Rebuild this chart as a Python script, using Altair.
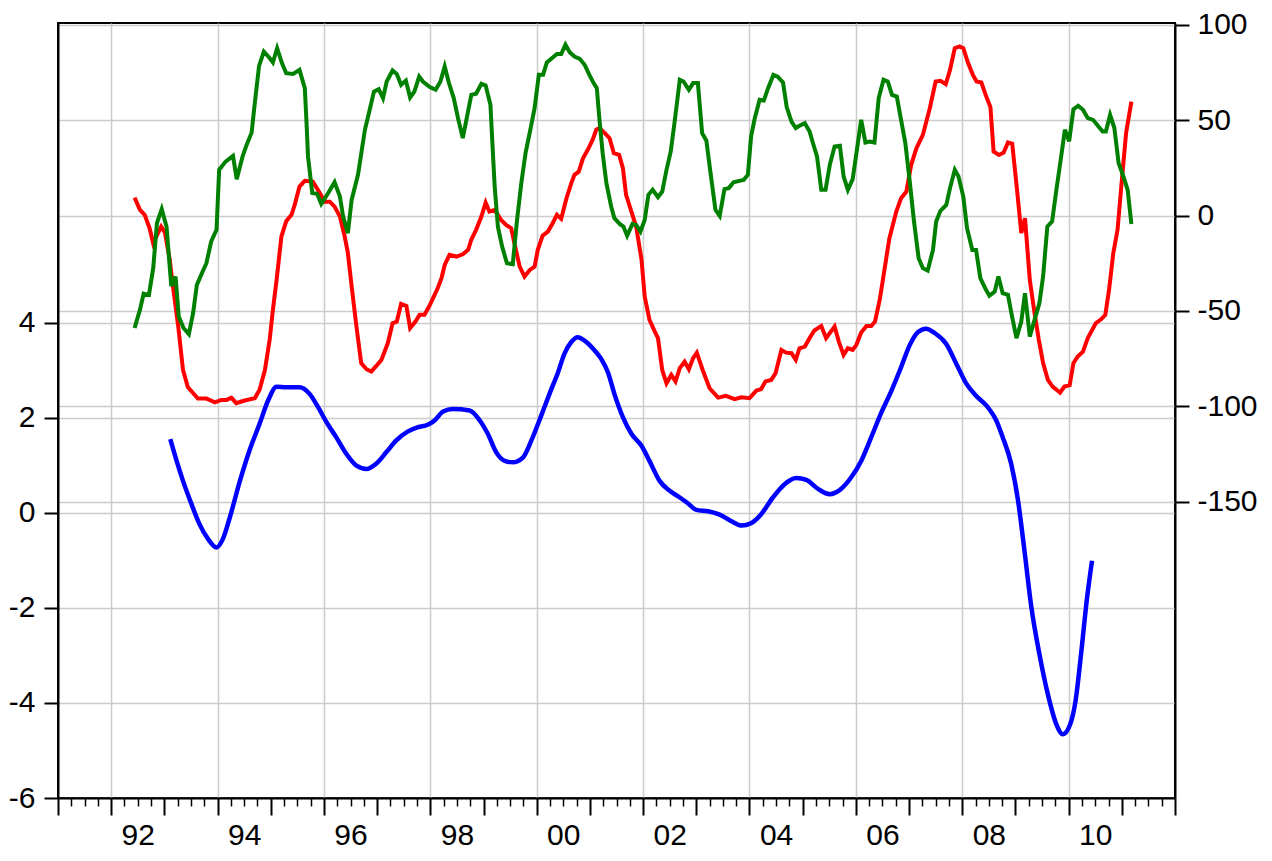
import altair as alt
import pandas as pd

# ---------------- data ----------------
red_t = [1992.44, 1992.54, 1992.63, 1992.72, 1992.79, 1992.88, 1992.94, 1993.01, 1993.10, 1993.16,
         1993.26, 1993.35, 1993.44, 1993.63, 1993.79, 1993.95, 1994.07, 1994.17, 1994.26, 1994.35,
         1994.51, 1994.70, 1994.79, 1994.89, 1994.98, 1995.04, 1995.11, 1995.20, 1995.29, 1995.39,
         1995.45, 1995.54, 1995.64, 1995.79, 1995.92, 1996.01, 1996.11, 1996.20, 1996.30, 1996.39,
         1996.45, 1996.52, 1996.61, 1996.70, 1996.80, 1996.89, 1996.98, 1997.08, 1997.20, 1997.29,
         1997.37, 1997.45, 1997.55, 1997.62, 1997.72, 1997.80, 1997.89, 1997.99, 1998.08, 1998.14,
         1998.21, 1998.27, 1998.36, 1998.49, 1998.61, 1998.71, 1998.77, 1998.86, 1998.96, 1999.04,
         1999.11, 1999.21, 1999.33, 1999.43, 1999.52, 1999.58, 1999.68, 1999.77, 1999.87, 1999.96,
         2000.02, 2000.11, 2000.21, 2000.30, 2000.38, 2000.46, 2000.56, 2000.65, 2000.71, 2000.79,
         2000.87, 2000.96, 2001.05, 2001.12, 2001.18, 2001.28, 2001.37, 2001.45, 2001.55, 2001.62,
         2001.68, 2001.78, 2001.87, 2001.97, 2002.03, 2002.12, 2002.22, 2002.28, 2002.36, 2002.44,
         2002.53, 2002.61, 2002.69, 2002.78, 2002.86, 2002.94, 2003.01, 2003.12, 2003.25, 2003.41,
         2003.56, 2003.72, 2003.85, 2004.00, 2004.13, 2004.22, 2004.30, 2004.41, 2004.49, 2004.60,
         2004.69, 2004.79, 2004.87, 2004.94, 2005.04, 2005.13, 2005.22, 2005.35, 2005.44, 2005.60,
         2005.68, 2005.77, 2005.85, 2005.94, 2006.01, 2006.10, 2006.20, 2006.29, 2006.36, 2006.45,
         2006.54, 2006.63, 2006.76, 2006.85, 2006.95, 2007.04, 2007.14, 2007.26, 2007.39, 2007.50,
         2007.59, 2007.69, 2007.77, 2007.86, 2007.95, 2008.02, 2008.11, 2008.20, 2008.27, 2008.36,
         2008.44, 2008.53, 2008.59, 2008.69, 2008.78, 2008.86, 2008.94, 2009.03, 2009.11, 2009.18,
         2009.27, 2009.36, 2009.44, 2009.52, 2009.61, 2009.70, 2009.84, 2009.92, 2010.02, 2010.09,
         2010.17, 2010.27, 2010.36, 2010.51, 2010.61, 2010.69, 2010.76, 2010.84, 2010.92, 2010.99,
         2011.08, 2011.18]
red_v = [9.4, 3, 0.4, -6.5, -14.5, -9.2, -5.8, -9, -23, -37,
         -58, -81, -90, -96, -96, -98, -96.7, -96.7, -95.5, -98.4,
         -97, -95.8, -91.4, -81, -65, -49.5, -33.7, -11, -3, 0.4,
         5.6, 15.2, 18.2, 17.8, 12, 7.3, 7.3, 4.7, -0.5, -11,
         -19.7, -37, -58, -77.4, -80.6, -81.8, -79, -75.7, -67, -56.5,
         -55.6, -46.3, -47.4, -59, -55.6, -52, -52, -47, -41.6, -38,
         -32.8, -25.9, -20.6, -21.5, -20.3, -18, -12.7, -7.5, -0.5, 6.8,
         2.1, 3, -2.3, -5, -6.6, -14.5, -26.8, -32, -28.5, -26.8,
         -18, -10.6, -8.4, -4, 0.4, -1.7, 9.1, 17, 21.4, 23,
         30, 34.5, 39.7, 45, 45.9, 43.2, 40.6, 32.7, 31.8, 24.9,
         10.9, 2.1, -5.8, -23, -42.5, -54.7, -60.9, -64.3, -81, -88,
         -83.6, -87, -80, -76.6, -80.6, -74.8, -71.9, -81, -90.6, -95.5,
         -94.6, -96.3, -95.3, -95.8, -91.8, -91, -87, -86.2, -82.7, -70.5,
         -71.9, -72.2, -75.7, -69.6, -68.7, -64.3, -60.3, -57.9, -64.3, -58.2,
         -66.1, -73.1, -69.6, -70.5, -67.8, -61.4, -57.9, -57.9, -55.6, -44,
         -28, -12, 2.1, 9.1, 12.6, 26.6, 35.4, 42.3, 56.3, 70.3,
         70.7, 68.9, 76.4, 87.8, 88.7, 87.8, 80, 73.8, 70.3, 69.8,
         63.3, 56.9, 33.6, 31.8, 33, 38.3, 37.6, 13.5, -9.2, -1.4,
         -33.7, -51.2, -65.2, -77.4, -86.2, -89.7, -92.9, -89.7, -89, -77.4,
         -74, -71.4, -64.3, -56.5, -54.4, -52.1, -39, -19.7, -7.5, 15.2,
         43.2, 59.8]

green_t = [1992.44, 1992.54, 1992.61, 1992.71, 1992.79, 1992.86, 1992.95, 1993.04, 1993.13, 1993.21,
           1993.27, 1993.36, 1993.46, 1993.54, 1993.61, 1993.70, 1993.79, 1993.88, 1993.98, 1994.03,
           1994.15, 1994.29, 1994.36, 1994.47, 1994.54, 1994.64, 1994.70, 1994.78, 1994.87, 1994.97,
           1995.04, 1995.12, 1995.21, 1995.29, 1995.42, 1995.54, 1995.64, 1995.67, 1995.70, 1995.78,
           1995.87, 1995.95, 1996.08, 1996.20, 1996.30, 1996.36, 1996.45, 1996.52, 1996.64, 1996.77,
           1996.86, 1996.94, 1997.03, 1997.11, 1997.18, 1997.29, 1997.37, 1997.45, 1997.54, 1997.62,
           1997.70, 1997.79, 1997.86, 1997.99, 1998.10, 1998.19, 1998.27, 1998.35, 1998.44, 1998.52,
           1998.61, 1998.69, 1998.77, 1998.86, 1998.96, 1999.04, 1999.13, 1999.17, 1999.21, 1999.27,
           1999.35, 1999.44, 1999.55, 1999.63, 1999.71, 1999.79, 1999.88, 1999.96, 2000.04, 2000.12,
           2000.19, 2000.29, 2000.38, 2000.46, 2000.54, 2000.62, 2000.71, 2000.81, 2000.90, 2000.99,
           2001.07, 2001.13, 2001.18, 2001.24, 2001.31, 2001.40, 2001.46, 2001.56, 2001.63, 2001.70,
           2001.80, 2001.87, 2001.95, 2002.03, 2002.10, 2002.18, 2002.28, 2002.36, 2002.44, 2002.52,
           2002.59, 2002.69, 2002.76, 2002.86, 2002.94, 2003.03, 2003.11, 2003.19, 2003.26, 2003.36,
           2003.44, 2003.53, 2003.61, 2003.70, 2003.81, 2003.89, 2003.97, 2004.03, 2004.10, 2004.19,
           2004.27, 2004.35, 2004.45, 2004.53, 2004.63, 2004.70, 2004.79, 2004.87, 2004.94, 2005.04,
           2005.13, 2005.19, 2005.27, 2005.35, 2005.43, 2005.51, 2005.60, 2005.70, 2005.77, 2005.85,
           2005.94, 2006.02, 2006.10, 2006.18, 2006.26, 2006.35, 2006.43, 2006.52, 2006.60, 2006.68,
           2006.77, 2006.85, 2006.93, 2007.01, 2007.09, 2007.18, 2007.26, 2007.35, 2007.45, 2007.51,
           2007.59, 2007.70, 2007.77, 2007.86, 2007.93, 2008.02, 2008.09, 2008.19, 2008.26, 2008.34,
           2008.44, 2008.51, 2008.61, 2008.68, 2008.76, 2008.86, 2008.93, 2009.02, 2009.11, 2009.18,
           2009.27, 2009.36, 2009.45, 2009.52, 2009.60, 2009.69, 2009.77, 2009.86, 2009.93, 2010.01,
           2010.09, 2010.18, 2010.27, 2010.36, 2010.46, 2010.55, 2010.64, 2010.70, 2010.78, 2010.86,
           2010.94, 2011.03, 2011.11, 2011.18]
green_v = [-59, -49.5, -41, -41.6, -27.6, -4, 3.4, -5.8, -37, -32,
           -53, -59, -62.2, -51.2, -36.4, -30.6, -25, -13.6, -7.5, 24,
           28.3, 31.3, 19.1, 31, 36.6, 43.5, 59, 78.5, 86, 82.9,
           80.3, 87.8, 80, 74.7, 74.3, 76.4, 66.8, 50.2, 31, 11.8,
           11.4, 6.1, 11.8, 17.5, 10, -0.5, -9.2, 8.2, 21.4, 45,
           55.5, 65, 66.3, 61.6, 70.3, 76.1, 74.2, 68.6, 70.8, 61.9,
           65, 72.9, 70.3, 67.4, 66, 70.3, 78.2, 69.5, 61.6, 51.1,
           40.6, 51.9, 63.3, 63.9, 69.1, 68.2, 58.1, 36.2, 15.2, -5.8,
           -16.3, -25, -25.5, -2.3, 17, 32.7, 45, 56.3, 73.8, 73.8,
           80.3, 82.6, 84.7, 84.7, 89.6, 85.7, 83.4, 82.2, 79.1, 73.8,
           69.5, 66.8, 50.2, 32.7, 17, 4.7, -1.4, -4.4, -5.8, -10.6,
           -4.4, -4.9, -8.4, -2.3, 10.9, 13.5, 9.7, 12.6, 24, 33.6,
           48.5, 71.2, 70.3, 66, 69.5, 69.5, 43.2, 39.3, 24, 3,
           -0.2, 13.9, 14.4, 17.5, 18.2, 18.7, 21.4, 41.4, 51.1, 60.7,
           60.3, 66.8, 73.8, 72.9, 69.8, 56.9, 49.3, 45.9, 47.1, 48.5,
           44.1, 38.3, 31, 13.5, 13.5, 26.6, 36.2, 36.6, 20.5, 13.5,
           19.1, 34.5, 50.2, 38.3, 38.8, 38.3, 61.6, 71.2, 70.3, 63.3,
           62.4, 50.2, 38, 18.7, -2.3, -22.4, -27.6, -28.9, -18, -3.1,
           2.5, 5.6, 14.4, 24, 20.5, 10, -6.6, -18, -18, -32.8,
           -38.6, -42.1, -39.9, -32, -40.7, -41.6, -52.1, -64.3, -55.6, -40.7,
           -63.5, -54.7, -46, -32, -5.8, -3.1, 13.5, 31, 45, 39,
           55.7, 57.6, 55.5, 51.1, 50.2, 47.1, 44.1, 44.1, 52.8, 45.9,
           27.5, 20.5, 13.5, -4.4]

blue_t = [1993.11, 1993.23, 1993.35, 1993.51, 1993.66, 1993.82, 1993.98, 1994.10, 1994.23, 1994.42,
          1994.60, 1994.79, 1994.95, 1995.11, 1995.29, 1995.54, 1995.73, 1995.89, 1996.05, 1996.23,
          1996.42, 1996.61, 1996.80, 1996.98, 1997.17, 1997.36, 1997.58, 1997.77, 1997.95, 1998.08,
          1998.24, 1998.42, 1998.74, 1998.93, 1999.08, 1999.24, 1999.40, 1999.55, 1999.74, 1999.90,
          2000.07, 2000.24, 2000.40, 2000.52, 2000.65, 2000.77, 2000.90, 2001.06, 2001.21, 2001.34,
          2001.46, 2001.62, 2001.78, 2001.97, 2002.12, 2002.31, 2002.50, 2002.69, 2002.84, 2003.00,
          2003.22, 2003.44, 2003.66, 2003.85, 2004.03, 2004.22, 2004.44, 2004.66, 2004.88, 2005.07,
          2005.29, 2005.51, 2005.70, 2005.91, 2006.10, 2006.29, 2006.48, 2006.67, 2006.85, 2007.01,
          2007.17, 2007.32, 2007.48, 2007.70, 2007.89, 2008.08, 2008.26, 2008.48, 2008.64, 2008.76,
          2008.92, 2009.05, 2009.17, 2009.30, 2009.45, 2009.61, 2009.77, 2009.89, 2010.03, 2010.13,
          2010.24, 2010.34, 2010.44]
blue_v = [1.55, 1.09, 0.67, 0.18, -0.24, -0.55, -0.73, -0.55, -0.1, 0.67,
          1.31, 1.87, 2.36, 2.65, 2.64, 2.64, 2.5, 2.22, 1.9, 1.59,
          1.24, 0.99, 0.92, 1.03, 1.27, 1.52, 1.71, 1.8, 1.85, 1.94,
          2.13, 2.18, 2.15, 1.94, 1.66, 1.27, 1.09, 1.06, 1.16, 1.52,
          2.0, 2.5, 2.95, 3.34, 3.59, 3.69, 3.62, 3.45, 3.24, 2.95,
          2.5, 2.01, 1.66, 1.41, 1.09, 0.67, 0.46, 0.32, 0.2, 0.06,
          0.03, -0.04, -0.18, -0.27, -0.22, -0.03, 0.32, 0.6, 0.73, 0.69,
          0.5, 0.39, 0.48, 0.74, 1.09, 1.59, 2.11, 2.57, 3.06, 3.52,
          3.8, 3.87, 3.78, 3.55, 3.13, 2.71, 2.46, 2.22, 1.94, 1.59,
          1.03, 0.25, -0.8, -1.99, -2.97, -3.82, -4.45, -4.66, -4.45, -3.96,
          -2.91, -1.85, -1.01]

# axis tick values / labels
left_ticks = [-6, -4, -2, 0, 2, 4]
right_ticks = [-150, -100, -50, 0, 50, 100]
year_ticks = list(range(1991, 2013))
grid_years = list(range(1992, 2011, 2))
quarter_ticks = [y + q for y in range(1991, 2012) for q in (0.25, 0.5, 0.75)]
label_pos = [y + 0.5 for y in range(1992, 2011, 2)]

# ---------------- frames ----------------
blue_df = pd.DataFrame({"t": blue_t, "v": blue_v})
rg_df = pd.concat([
    pd.DataFrame({"t": red_t, "v": red_v, "s": "red"}),
    pd.DataFrame({"t": green_t, "v": green_v, "s": "green"}),
])

FONT = "Liberation Sans"
FS = 30
GRID = "#cccccc"
HYPHEN = "(datum.value < 0 ? '-' : '') + format(abs(datum.value), 'd')"
xscale = alt.Scale(domain=[1991, 2012], nice=False, zero=False)
lscale = alt.Scale(domain=[-6, 10.3], nice=False, zero=False)
rscale = alt.Scale(domain=[-305.5, 101], nice=False, zero=False)


def xaxis(**kw):
    base = dict(orient="bottom", title=None, labelFont=FONT, labelFontSize=FS,
                labelColor="black", labelFlush=False, labelOverlap=False)
    base.update(kw)
    return alt.Axis(**base)


def yaxis(**kw):
    base = dict(title=None, grid=True, gridColor=GRID, gridWidth=1.5, tickSize=14,
                tickWidth=2, tickColor="black", domainColor="black", domainWidth=2,
                labelFont=FONT, labelFontSize=FS, labelColor="black",
                labelFlush=False, labelOverlap=False, labelExpr=HYPHEN)
    base.update(kw)
    return alt.Axis(**base)


blue = alt.Chart(blue_df).mark_line(color="#0000FF", strokeWidth=4.5, interpolate="monotone").encode(
    x=alt.X("t:Q", scale=xscale,
            axis=xaxis(values=grid_years, grid=True, gridColor=GRID, gridWidth=1.5,
                       ticks=False, labels=False, domain=False)),
    y=alt.Y("v:Q", scale=lscale,
            axis=yaxis(orient="left", values=left_ticks, labelPadding=9)),
)

rg = alt.Chart(rg_df).mark_line(strokeWidth=4).encode(
    x=alt.X("t:Q", scale=xscale,
            axis=xaxis(values=year_ticks, grid=False, tickSize=17, tickWidth=2,
                       tickColor="black", labels=False, domain=True,
                       domainColor="black", domainWidth=2)),
    y=alt.Y("v:Q", scale=rscale,
            axis=yaxis(orient="right", values=right_ticks, labelPadding=8)),
    color=alt.Color("s:N", scale=alt.Scale(domain=["red", "green"],
                                            range=["#FF0000", "#008000"]), legend=None),
    detail="s:N",
)

minor = alt.Chart(blue_df).mark_line(opacity=0).encode(
    x=alt.X("t:Q", scale=xscale,
            axis=xaxis(values=quarter_ticks, grid=False, tickSize=8, tickWidth=1.5,
                       tickColor="black", labels=False, domain=False)),
    y=alt.Y("v:Q", scale=lscale, axis=None),
)

labels = alt.Chart(blue_df).mark_line(opacity=0).encode(
    x=alt.X("t:Q", scale=xscale,
            axis=xaxis(values=label_pos, grid=False, ticks=False, domain=False,
                       labelPadding=22,
                       labelExpr="slice(format(floor(datum.value), 'd'), 2)")),
    y=alt.Y("v:Q", scale=lscale, axis=None),
)

chart = alt.layer(blue, rg, minor, labels).resolve_scale(
    y="independent"
).resolve_axis(
    x="independent", y="independent"
).properties(
    width=1117, height=775,
    padding={"left": 50, "top": 15, "right": 89, "bottom": 55},
    autosize=alt.AutoSizeParams(type="none"),
    background="white",
).configure_view(stroke="black", strokeWidth=2)

chart.save("out.html", embed_options={"renderer": "svg", "actions": False})
